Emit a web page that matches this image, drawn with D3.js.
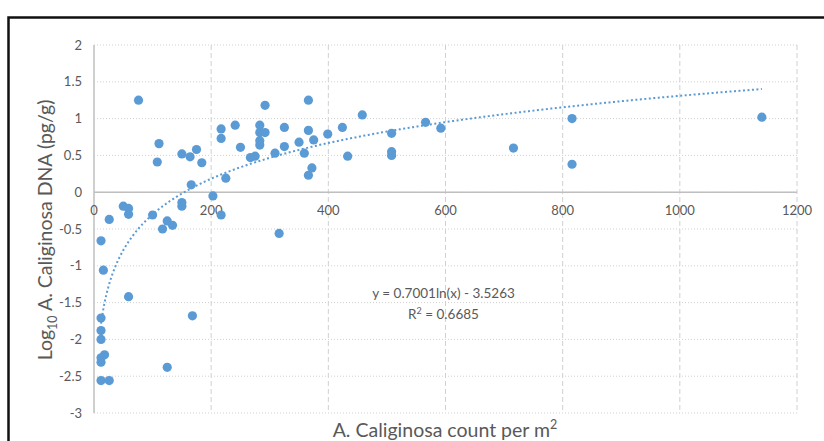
<!DOCTYPE html>
<html>
<head>
<meta charset="utf-8">
<script src="https://cdn.jsdelivr.net/npm/d3@7"></script>
<style>
  body { margin: 0; background: #fff; }
  #graf { width: 824px; height: 441px; }
  text { font-family: Lato, "Liberation Sans", sans-serif; fill: #595959; }
</style>
</head>
<body>
<div id="graf"></div>
<script>
// Datos
const conteo = [26, 50, 59, 59, 100, 125, 117, 134, 150, 150, 203, 217,
  12, 16, 59, 316, 12, 12, 12, 18, 12, 12, 168, 125, 12, 26,
  76, 111, 108, 150, 164, 175, 184, 166, 217, 217, 241, 225, 250, 267, 275,
  283, 283, 292, 283, 283, 292, 309, 325, 325, 350, 359, 366, 366, 375, 372, 366, 399,
  458, 424, 433, 508, 508, 508, 566, 592, 716, 816, 816, 1140];
const logDNA = [-0.37, -0.19, -0.22, -0.30, -0.31, -0.39, -0.50, -0.45, -0.14, -0.19, -0.05, -0.31,
  -0.66, -1.06, -1.42, -0.56, -1.71, -1.88, -2.0, -2.21, -2.25, -2.31, -1.68, -2.38, -2.56, -2.56,
  1.25, 0.66, 0.41, 0.52, 0.48, 0.58, 0.40, 0.10, 0.86, 0.73, 0.91, 0.19, 0.61, 0.47, 0.49,
  0.91, 0.81, 0.81, 0.70, 0.64, 1.18, 0.53, 0.88, 0.62, 0.68, 0.53, 1.25, 0.84, 0.71, 0.33, 0.23, 0.79,
  1.05, 0.88, 0.49, 0.80, 0.55, 0.50, 0.95, 0.87, 0.60, 1.0, 0.38, 1.02];
const xTicks = [0, 200, 400, 600, 800, 1000, 1200];
const yTicks = [2, 1.5, 1, 0.5, 0, -0.5, -1, -1.5, -2, -2.5, -3];
const ajuste = { a: 0.7001, b: -3.5263 };
const ecuacion = "y = 0.7001ln(x) - 3.5263";

const datos = conteo.map((c, i) => ({ x: c, y: logDNA[i] }));

const anchoTotal = 824, altoTotal = 441;
const margins = { top: 45, right: 27, bottom: 28, left: 94 };
const ancho = anchoTotal - margins.left - margins.right;
const alto = altoTotal - margins.top - margins.bottom;

const svg = d3.select("#graf").append("svg")
  .attr("width", anchoTotal).attr("height", altoTotal);

// marco del grafico
svg.append("rect")
  .attr("x", 8.5).attr("y", 17.5)
  .attr("width", 840).attr("height", 440)
  .attr("fill", "none").attr("stroke", "#111").attr("stroke-width", 2.5);

const g = svg.append("g")
  .attr("transform", `translate(${margins.left}, ${margins.top})`);

const x = d3.scaleLinear().domain([0, 1200]).range([0, ancho]);
const y = d3.scaleLinear().domain([-3, 2]).range([alto, 0]);

// rejilla
g.selectAll(".hgrid").data(yTicks).join("line")
  .attr("x1", 0).attr("x2", ancho)
  .attr("y1", d => y(d)).attr("y2", d => y(d))
  .attr("stroke", "#d0d0d0").attr("stroke-width", 1)
  .attr("stroke-dasharray", "1,2");
g.selectAll(".vgrid").data(xTicks.slice(1)).join("line")
  .attr("x1", d => x(d)).attr("x2", d => x(d))
  .attr("y1", 0).attr("y2", alto)
  .attr("stroke", "#d0d0d0").attr("stroke-width", 1)
  .attr("stroke-dasharray", "5,3");

// ejes
g.append("line").attr("x1", 0).attr("x2", ancho)
  .attr("y1", y(0)).attr("y2", y(0))
  .attr("stroke", "#bfbfbf").attr("stroke-width", 1.5);
g.append("line").attr("x1", 0).attr("x2", 0)
  .attr("y1", 0).attr("y2", alto)
  .attr("stroke", "#bfbfbf").attr("stroke-width", 1.5);

g.selectAll(".ylab").data(yTicks).join("text")
  .attr("x", -12).attr("y", d => y(d) + 4.5)
  .attr("text-anchor", "end")
  .style("font-size", "13px")
  .text(d => d);
g.selectAll(".xlab").data(xTicks).join("text")
  .attr("x", d => x(d)).attr("y", y(0) + 23)
  .attr("text-anchor", "middle")
  .style("font-size", "13px")
  .text(d => d);

// linea de tendencia logaritmica
const xsTend = d3.range(d3.min(conteo), d3.max(conteo) + 1, 2);
const linea = d3.line()
  .x(d => x(d))
  .y(d => y(ajuste.a * Math.log(d) + ajuste.b));
g.append("path").datum(xsTend)
  .attr("d", linea)
  .attr("fill", "none").attr("stroke", "#5b9bd5")
  .attr("stroke-width", 2).attr("stroke-dasharray", "2,2.5");

// puntos
g.selectAll("circle").data(datos).join("circle")
  .attr("cx", d => x(d.x)).attr("cy", d => y(d.y))
  .attr("r", 4.6).attr("fill", "#5b9bd5");

// ecuacion
g.append("text").attr("x", x(600) - 2).attr("y", y(-1.5) - 5)
  .attr("text-anchor", "middle")
  .style("font-size", "13.5px")
  .text(ecuacion);
const r2 = g.append("text").attr("x", x(600) - 2).attr("y", y(-1.5) + 16)
  .attr("text-anchor", "middle")
  .style("font-size", "13.5px");
r2.append("tspan").text("R");
r2.append("tspan").attr("dy", -5).style("font-size", "9px").text("2");
r2.append("tspan").attr("dy", 5).text(" = 0.6685");

// titulos de ejes
const tx = svg.append("text")
  .attr("x", 445).attr("y", 437)
  .attr("text-anchor", "middle")
  .style("font-size", "19.5px");
tx.append("tspan").text("A. Caliginosa count per m");
tx.append("tspan").attr("dy", -8).style("font-size", "12.5px").text("2");

const ty = svg.append("text")
  .attr("transform", "translate(52, 230) rotate(-90)")
  .attr("text-anchor", "middle")
  .style("font-size", "19.5px");
ty.append("tspan").text("Log");
ty.append("tspan").attr("dy", 5).style("font-size", "12.5px").text("10");
ty.append("tspan").attr("dy", -5).text(" A. Caliginosa DNA (pg/g)");
</script>
</body>
</html>
